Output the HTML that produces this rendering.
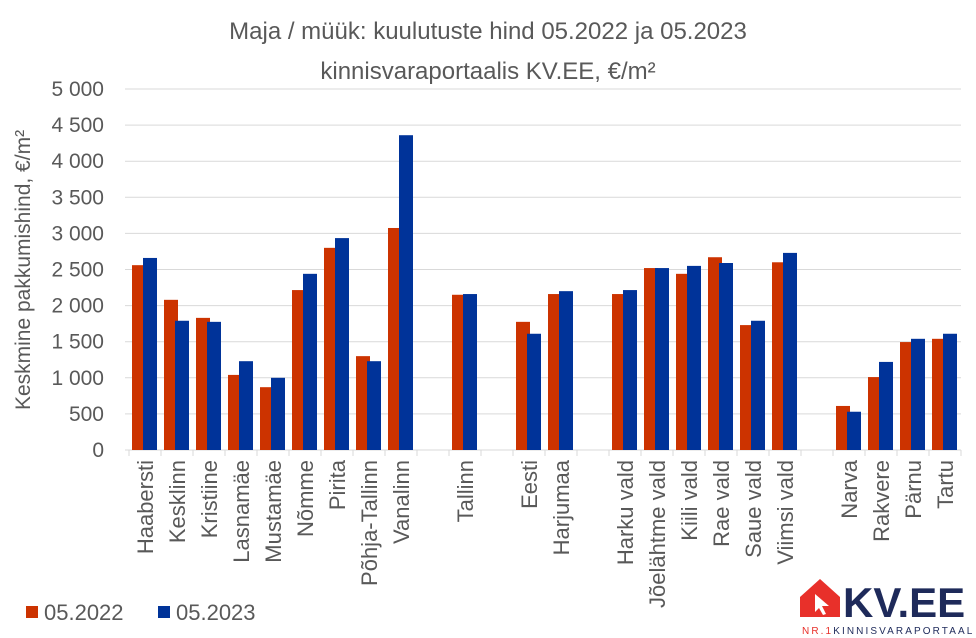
<!DOCTYPE html>
<html><head><meta charset="utf-8"><style>
body{margin:0;background:#fff;}
svg{display:block;font-family:"Liberation Sans",sans-serif;}
</style></head><body>
<svg id="c" width="976" height="638">
<text x="488" y="39" text-anchor="middle" font-size="24" fill="#595959">Maja / müük: kuulutuste hind 05.2022 ja 05.2023</text>
<text x="488" y="79" text-anchor="middle" font-size="24" fill="#595959">kinnisvaraportaalis KV.EE, €/m²</text>
<text transform="translate(30,270) rotate(-90)" text-anchor="middle" font-size="21" fill="#595959">Keskmine pakkumishind, €/m²</text>
<g id="grid"></g><g id="bars"></g><g id="xl"></g>
<g>
<rect x="26" y="606" width="12" height="12" fill="#cc3300"/>
<text x="44" y="620" font-size="22" fill="#595959">05.2022</text>
<rect x="158" y="606" width="12" height="12" fill="#003399"/>
<text x="176" y="620" font-size="22" fill="#595959">05.2023</text>
</g>
<g>
<path d="M800 617 L800 597 L820 579 L840 597 L840 617 Z" fill="#e8302a"/>
<path d="M815 612 L815 594 L829 606 L822 606 L826 614 L823 615 L819 608 Z" fill="#fff"/>
<text x="843" y="617" font-size="42" font-weight="bold" fill="#1e2a5a">KV.EE</text>
<text x="802" y="634" font-size="10" fill="#e8302a" letter-spacing="2.1">NR.1<tspan fill="#1e2a5a">KINNISVARAPORTAAL</tspan></text>
</g>
</svg>
<script>
const categories=["Haabersti","Kesklinn","Kristiine","Lasnamäe","Mustamäe","Nõmme","Pirita","Põhja-Tallinn","Vanalinn","","Tallinn","","Eesti","Harjumaa","","Harku vald","Jõelähtme vald","Kiili vald","Rae vald","Saue vald","Viimsi vald","","Narva","Rakvere","Pärnu","Tartu"];
const v2022=[2560,2080,1830,1040,870,2215,2800,1300,3075,null,2150,null,1775,2160,null,2160,2520,2440,2670,1730,2600,null,610,1010,1495,1540];
const v2023=[2660,1790,1775,1230,1000,2440,2935,1230,4360,null,2160,null,1610,2200,null,2215,2520,2550,2590,1790,2730,null,530,1220,1540,1610];
const yTicks=[0,500,1000,1500,2000,2500,3000,3500,4000,4500,5000];
const yTickLabels=["0","500","1 000","1 500","2 000","2 500","3 000","3 500","4 000","4 500","5 000"];
const NS="http://www.w3.org/2000/svg";
const X0=129,SLOT=32,Y0=450,YS=361/5000;
const y=v=>Y0-v*YS, x=i=>X0+i*SLOT;
function mk(t,a,p){const e=document.createElementNS(NS,t);for(const k in a)e.setAttribute(k,a[k]);p.appendChild(e);return e;}
const g=document.getElementById('grid'),b=document.getElementById('bars'),xl=document.getElementById('xl');
yTicks.forEach((t,i)=>{
 const ln=mk('line',{x1:X0-4,x2:x(categories.length),y1:y(t),y2:y(t),stroke:'#d9d9d9','stroke-width':1},g);
 
 
 const tx=mk('text',{x:104,y:y(t)+7,'text-anchor':'end','font-size':21,fill:'#595959'},g);
 tx.textContent=yTickLabels[i];
 
 
});
for(let i=0;i<=categories.length;i++){
 const tk=mk('line',{x1:x(i),x2:x(i),y1:Y0,y2:Y0+6,stroke:'#d9d9d9'},g);
 
 
}
categories.forEach((c,i)=>{
 if(v2022[i]!=null){
  const r=mk('rect',{x:x(i)+3,y:y(v2022[i]),width:14,height:v2022[i]*YS,fill:'#cc3300'},b);
  
  
 }
 if(v2023[i]!=null){
  const r=mk('rect',{x:x(i)+14,y:y(v2023[i]),width:14,height:v2023[i]*YS,fill:'#003399'},b);
  
  
 }
 if(c){
  const cx=x(i)+SLOT/2+8;
  const t=mk('text',{transform:`translate(${cx},460) rotate(-90)`,'text-anchor':'end','font-size':22,fill:'#595959'},xl);
  t.textContent=c;
  
  
 }
});
</script>
</body></html>
